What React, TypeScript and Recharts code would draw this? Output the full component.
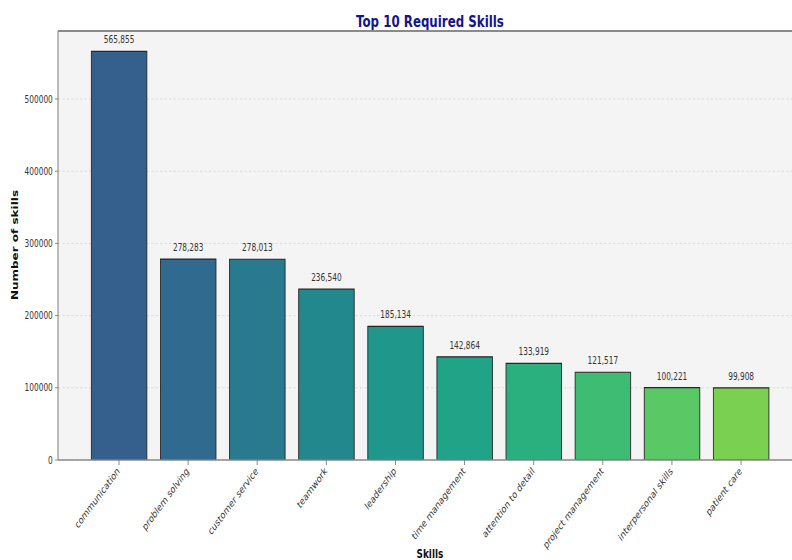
import React from 'react';
import { BarChart, Bar, XAxis, YAxis, CartesianGrid, Cell, LabelList, ReferenceLine, Customized } from 'recharts';

const skills = [
  'communication', 'problem solving', 'customer service', 'teamwork', 'leadership',
  'time management', 'attention to detail', 'project management', 'interpersonal skills', 'patient care',
];
const counts = [565855, 278283, 278013, 236540, 185134, 142864, 133919, 121517, 100221, 99908];
const colors = ['#355f8d', '#306a8e', '#297a8e', '#23888e', '#1f978b', '#20a386', '#2ab07f', '#3fbc73', '#5ac864', '#7ad151'];
const yTicks = [0, 100000, 200000, 300000, 400000, 500000];
const yMax = 594148;

const data = skills.map((s, i) => ({ skill: s, count: counts[i] }));

const SQ = 0.74;
const W = 1100;
const H = 560;
const FONT = 'DejaVu Sans, sans-serif';

const XTick = (props: any) => {
  const { x, y, payload } = props;
  return (
    <text
      x={x - 1}
      y={y + 1}
      transform={`rotate(-45, ${x - 1}, ${y + 1})`}
      textAnchor="end"
      dominantBaseline="central"
      fontSize={10.5}
      fontFamily={FONT}
      fill="#333"
    >
      {payload.value}
    </text>
  );
};

const Texts = () => (
  <g>
    <text x={581} y={27} textAnchor="middle" fontSize={16} fontWeight="bold" fontFamily={FONT} fill="#14148f">
      Top 10 Required Skills
    </text>
    <text
      x={24}
      y={245}
      transform="rotate(-90, 24, 245)"
      textAnchor="middle"
      fontSize={12}
      fontWeight="bold"
      fontFamily={FONT}
      fill="#111"
    >
      Number of skills
    </text>
    <text x={581} y={558} textAnchor="middle" fontSize={12} fontWeight="bold" fontFamily={FONT} fill="#111">
      Skills
    </text>
  </g>
);

export default function App() {
  return (
    <div style={{ position: 'fixed', left: 0, top: 0, width: 792, height: 560, overflow: 'hidden', background: '#fff' }}>
      <div style={{ width: W, height: H, transform: `scaleX(${SQ})`, transformOrigin: '0 0' }}>
        <BarChart
          width={W}
          height={H}
          data={data}
          margin={{ top: 31, right: 16.2, bottom: 70, left: 18.4 }}
          barCategoryGap="10%"
        >
          <CartesianGrid vertical={false} fill="#f4f4f4" stroke="#d8d8d8" strokeDasharray="3 3" />
          <XAxis
            dataKey="skill"
            height={30}
            padding={{ left: 35.7, right: 35.7 }}
            interval={0}
            tick={<XTick />}
            tickSize={5}
            tickMargin={3}
            axisLine={{ stroke: '#8a8a8a', strokeWidth: 1.5 }}
            tickLine={{ stroke: '#777' }}
          />
          <YAxis
            width={60}
            domain={[0, yMax]}
            ticks={yTicks}
            allowDataOverflow
            tickSize={4}
            tickMargin={3}
            tick={{ fontSize: 10, fill: '#333', fontFamily: FONT }}
            axisLine={{ stroke: '#8a8a8a', strokeWidth: 1.5 }}
            tickLine={{ stroke: '#777' }}
          />
          <ReferenceLine y={yMax} stroke="#8a8a8a" strokeWidth={2} />
          <Bar dataKey="count" isAnimationActive={false} stroke="#262626" strokeWidth={1.2}>
            {data.map((d, i) => (
              <Cell key={d.skill} fill={colors[i]} />
            ))}
            <LabelList
              dataKey="count"
              position="top"
              offset={8}
              formatter={(v: any) => Number(v).toLocaleString('en-US')}
              style={{ fontSize: 10, fill: '#333', fontFamily: FONT }}
            />
          </Bar>
          <Customized component={Texts} />
        </BarChart>
      </div>
    </div>
  );
}
